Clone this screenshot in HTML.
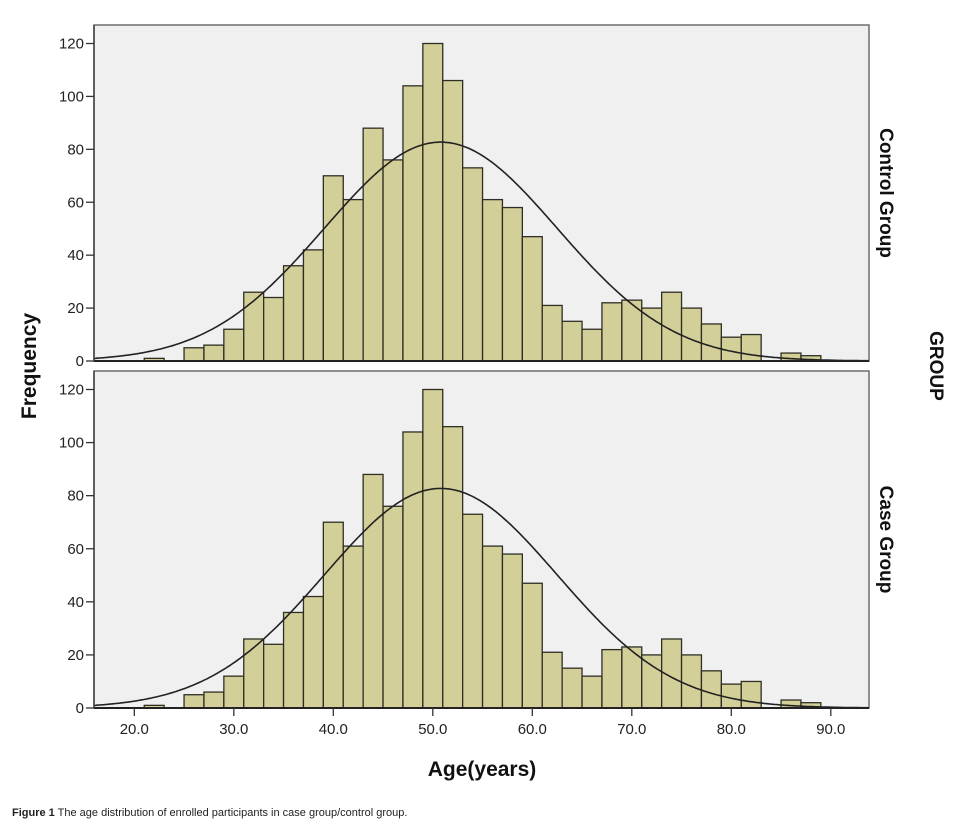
<!DOCTYPE html>
<html><head><meta charset="utf-8"><style>
body{margin:0;background:#fff;width:966px;height:830px;overflow:hidden}
svg{display:block;font-family:"Liberation Sans",Arial,sans-serif}
</style></head><body>
<svg id="chart" width="966" height="830" xmlns="http://www.w3.org/2000/svg"></svg>
<script>
const binStarts=[21,23,25,27,29,31,33,35,37,39,41,43,45,47,49,51,53,55,57,59,61,63,65,67,69,71,73,75,77,79,81,83,85,87];
const controlCounts=[1,0,5,6,12,26,24,36,42,70,61,88,76,104,120,106,73,61,58,47,21,15,12,22,23,20,26,20,14,9,10,0,3,2];
const caseCounts=[1,0,5,6,12,26,24,36,42,70,61,88,76,104,120,106,73,61,58,47,21,15,12,22,23,20,26,20,14,9,10,0,3,2];
const binWidth=2;
const xTicks=[20,30,40,50,60,70,80,90];
const yTicks=[0,20,40,60,80,100,120];
const normalMean=[50.8];
const normalSd=[11.7];
const groupLabels=["Control Group","Case Group"];

const NS="http://www.w3.org/2000/svg";
const svg=document.getElementById('chart');
function el(tag,attrs,parent){const e=document.createElementNS(NS,tag);for(const k in attrs)e.setAttribute(k,attrs[k]);(parent||svg).appendChild(e);return e;}
const X0=94,X1=869;
function xScale(v){return 134.3+(v-20)*9.95;}
const panels=[{top:25,bottom:361,counts:controlCounts},{top:371,bottom:708,counts:caseCounts}];
function yScaleFor(p){const k=(p.bottom-p.top-18.5)/120;return v=>p.bottom-v*k;}

panels.forEach((p,pi)=>{
  const ys=yScaleFor(p);
  const g=el('g',{});
  
  
  const bg=el('rect',{x:X0,y:p.top,width:X1-X0,height:p.bottom-p.top,fill:'#f0f0f0',stroke:'#6e6e6e','stroke-width':1.5},g);
  
  
  p.counts.forEach((c,i)=>{
    if(c<=0)return;
    const x=xScale(binStarts[i]),w=xScale(binStarts[i]+binWidth)-x;
    const r=el('rect',{x:x,y:ys(c),width:w,height:p.bottom-ys(c),fill:'#d3cf98',stroke:'#2e2e24','stroke-width':1.3},g);
    
    
  });
  // normal curve
  const n=p.counts.reduce((a,b)=>a+b,0);
  let d='';
  for(let px=X0;px<=X1;px+=2){
    const v=20+(px-134.3)/9.95;
    const z=(v-normalMean[0])/normalSd[0];
    const f=n*binWidth*Math.exp(-z*z/2)/(normalSd[0]*Math.sqrt(2*Math.PI));
    d+=(d?'L':'M')+px+','+ys(f).toFixed(1);
  }
  const curve=el('path',{d:d,fill:'none',stroke:'#222','stroke-width':1.6},g);
  
  
  el('line',{x1:X0,x2:X1,y1:p.bottom,y2:p.bottom,stroke:'#222','stroke-width':2},g);
  el('line',{x1:X0,x2:X0,y1:p.top,y2:p.bottom,stroke:'#444','stroke-width':1.5},g);
  yTicks.forEach(t=>{
    el('line',{x1:X0-8,x2:X0,y1:ys(t),y2:ys(t),stroke:'#333','stroke-width':1.3},g);
    const tx=el('text',{x:X0-10,y:ys(t)+5,'text-anchor':'end','font-size':15,fill:'#222'},g);
    tx.textContent=t;
    
    
  });
  const cy=(p.top+p.bottom)/2;
  const lab=el('text',{x:0,y:0,transform:`translate(880,${cy}) rotate(90)`,'text-anchor':'middle','font-size':19,'font-weight':'bold',fill:'#111'},g);
  lab.textContent=groupLabels[pi];
  
  
});
xTicks.forEach(t=>{
  const x=xScale(t);
  el('line',{x1:x,x2:x,y1:708,y2:716,stroke:'#333','stroke-width':1.3});
  const tx=el('text',{x:x,y:734,'text-anchor':'middle','font-size':15,fill:'#222'});
  tx.textContent=t.toFixed(1);
  
  
});
const xt=el('text',{x:482,y:776,'text-anchor':'middle','font-size':21,'font-weight':'bold',fill:'#111'});
xt.textContent='Age(years)';


const yt=el('text',{x:0,y:0,transform:'translate(36,366) rotate(-90)','text-anchor':'middle','font-size':21,'font-weight':'bold',fill:'#111'});
yt.textContent='Frequency';


const gt=el('text',{x:0,y:0,transform:'translate(930,366) rotate(90)','text-anchor':'middle','font-size':19,'font-weight':'bold',fill:'#111'});
gt.textContent='GROUP';


const cap=el('text',{x:12,y:816,'font-size':11,fill:'#222'});
cap.innerHTML='<tspan font-weight="bold">Figure 1</tspan> The age distribution of enrolled participants in case group/control group.';


</script>
</body></html>
